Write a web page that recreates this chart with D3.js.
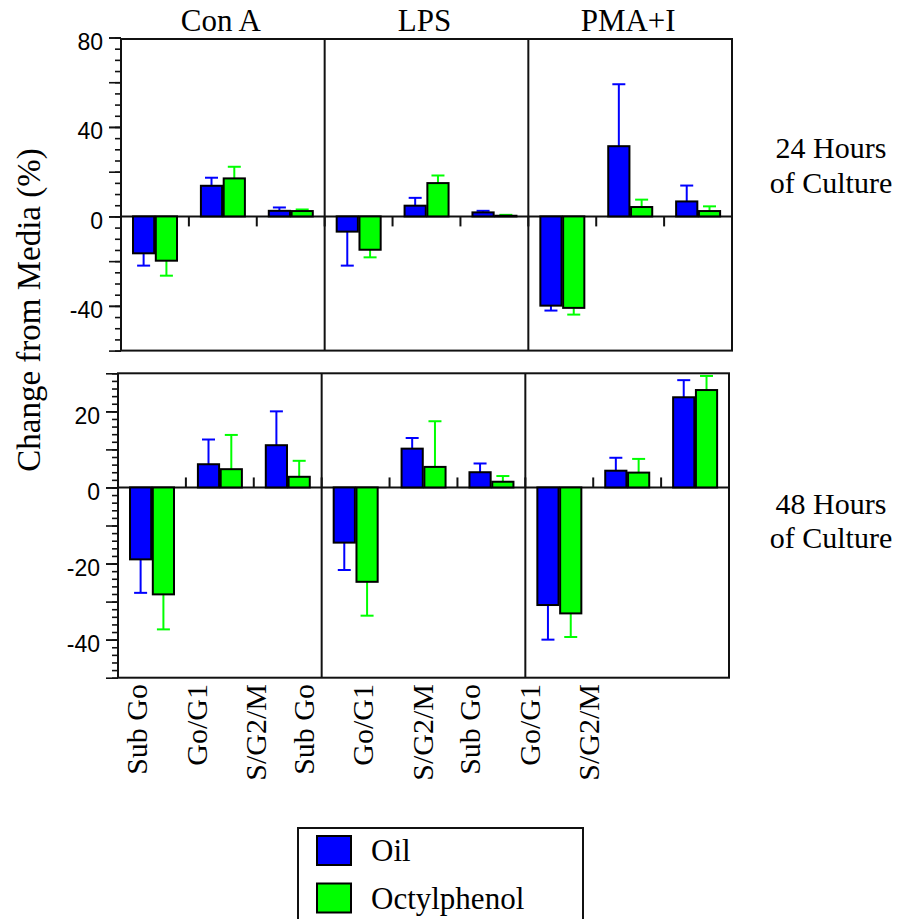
<!DOCTYPE html>
<html>
<head>
<meta charset="utf-8">
<script src="https://cdn.jsdelivr.net/npm/d3@7/dist/d3.min.js"></script>
<style>
  html, body { margin: 0; padding: 0; background: #fff; }
  svg { display: block; }
</style>
</head>
<body>
<svg id="chart" width="906" height="919"></svg>
<script>
// ---------------- DATA ----------------
const stimuli = ["Con A", "LPS", "PMA+I"];
const phases = ["Sub Go", "Go/G1", "S/G2/M"];
const seriesNames = ["Oil", "Octylphenol"];
const seriesColors = ["#0000ff", "#00ff00"];
const rowLabels = [["24 Hours", "of Culture"], ["48 Hours", "of Culture"]];

// values ordered: Con A (Sub Go, Go/G1, S/G2/M), LPS (...), PMA+I (...)
const oil24      = [-16.5, 13.7, 2.5,  -6.8, 4.8, 1.8,  -39.9, 31.4, 6.7];
const oil24Err   = [  5.5,  3.6, 1.5,  15.2, 3.5, 0.7,    2.2, 27.7, 7.1];
const octyl24    = [-19.8, 17.0, 2.4, -14.9, 14.9, 0.3, -40.9, 4.2, 2.4];
const octyl24Err = [  6.7,  5.2, 0.7,   3.4, 3.4, 0.4,    3.0, 3.3, 2.1];

const oil48      = [-18.9, 6.1, 11.1, -14.5, 10.2, 4.0, -30.9, 4.4, 23.7];
const oil48Err   = [  8.8, 6.5,  8.9,   7.2,  2.8, 2.3,   9.1, 3.4,  4.5];
const octyl48    = [-28.1, 4.8,  2.8, -24.8,  5.4, 1.5, -33.1, 3.9, 25.6];
const octyl48Err = [  9.2, 9.0,  4.2,   8.9, 12.0, 1.5,   6.2, 3.6,  3.7];

const topTickLabels = [80, 40, 0, -40];
const bottomTickLabels = [20, 0, -20, -40];

// ---------------- LAYOUT ----------------
const svg = d3.select("#chart");
const SERIF = "'Liberation Serif', 'Times New Roman', serif";
const SANS = "'Liberation Sans', Arial, sans-serif";

const rows = [
  { left: 121, right: 732, top: 37.5, bottom: 350.6, frameTop: 39, domain: [-60, 80],
    minorStep: 5, majorStep: 20, labels: topTickLabels, tickDir: 1,
    oil: oil24, oilErr: oil24Err, oct: octyl24, octErr: octyl24Err,
    labelY: [158, 193] },
  { left: 118, right: 729, top: 373.3, bottom: 677.7, frameTop: 373.3, domain: [-50, 30],
    minorStep: 2, majorStep: 10, labels: bottomTickLabels, tickDir: -1,
    oil: oil48, oilErr: oil48Err, oct: octyl48, octErr: octyl48Err,
    labelY: [514, 548] }
];

const frameColor = "#111";

rows.forEach((r, ri) => {
  const g = svg.append("g");
  const y = d3.scaleLinear().domain(r.domain).range([r.bottom, r.top]);
  const xPanel = d3.scaleBand().domain(stimuli).range([r.left, r.right]).paddingInner(0).paddingOuter(0);
  const pw = xPanel.bandwidth();
  const xCat = d3.scaleBand().domain(phases).range([0, pw]);
  const cw = xCat.bandwidth();
  const xSer = d3.scaleBand().domain(seriesNames).range([cw * 0.177, cw * 0.825]).paddingInner(0.07);

  // y axis ticks
  const minor = d3.axisLeft(y).tickValues(d3.range(r.domain[0], r.domain[1] + 0.001, r.minorStep)).tickSize(6).tickFormat("");
  const major = d3.axisLeft(y).tickValues(d3.range(r.domain[0], r.domain[1] + 0.001, r.majorStep)).tickSize(12).tickFormat("");
  const lab = d3.axisLeft(y).tickValues(r.labels).tickSize(12).tickPadding(6).tickFormat(d => String(d));
  [minor, major, lab].forEach(ax => {
    const a = g.append("g").attr("transform", `translate(${r.left},0)`).call(ax);
    a.select(".domain").remove();
    a.selectAll("line").attr("stroke", frameColor).attr("stroke-width", 1.6);
    a.selectAll("text").attr("font-family", SANS).attr("font-size", 23).attr("fill", "#000").attr("dy", "0.52em");
  });

  // frame
  g.append("line").attr("x1", r.left).attr("x2", r.left).attr("y1", r.frameTop).attr("y2", r.bottom)
    .attr("stroke", frameColor).attr("stroke-width", 2);
  g.append("rect").attr("x", r.left).attr("y", r.frameTop).attr("width", r.right - r.left).attr("height", r.bottom - r.frameTop)
    .attr("fill", "none").attr("stroke", frameColor).attr("stroke-width", 2);
  // panel dividers
  stimuli.slice(1).forEach(s => {
    g.append("line").attr("x1", xPanel(s)).attr("x2", xPanel(s)).attr("y1", r.frameTop).attr("y2", r.bottom)
      .attr("stroke", frameColor).attr("stroke-width", 2);
  });
  // zero line
  g.append("line").attr("x1", r.left).attr("x2", r.right).attr("y1", y(0)).attr("y2", y(0))
    .attr("stroke", frameColor).attr("stroke-width", 2);
  // category ticks on zero line
  stimuli.forEach(s => {
    phases.forEach((p, pi) => {
      const xx = xPanel(s) + xCat(p);
      g.append("line").attr("x1", xx).attr("x2", xx).attr("y1", y(0)).attr("y2", y(0) + 10 * r.tickDir)
        .attr("stroke", frameColor).attr("stroke-width", 2);
    });
  });

  // bars + error bars
  const data = [];
  stimuli.forEach((s, si) => {
    phases.forEach((p, pi) => {
      const idx = si * 3 + pi;
      data.push({ s, p, ser: 0, v: r.oil[idx], e: r.oilErr[idx] });
      data.push({ s, p, ser: 1, v: r.oct[idx], e: r.octErr[idx] });
    });
  });
  const bx = d => xPanel(d.s) + xCat(d.p) + xSer(seriesNames[d.ser]);
  const bw = xSer.bandwidth();

  // error bars (behind bars)
  const eg = g.append("g");
  data.forEach(d => {
    const cx = bx(d) + bw / 2;
    const end = d.v >= 0 ? d.v + d.e : d.v - d.e;
    const col = seriesColors[d.ser];
    eg.append("line").attr("x1", cx).attr("x2", cx).attr("y1", y(d.v)).attr("y2", y(end))
      .attr("stroke", col).attr("stroke-width", 2);
    eg.append("line").attr("x1", cx - 6.5).attr("x2", cx + 6.5).attr("y1", y(end)).attr("y2", y(end))
      .attr("stroke", col).attr("stroke-width", 2);
  });

  g.append("g").selectAll("rect").data(data).join("rect")
    .attr("x", d => bx(d))
    .attr("width", bw)
    .attr("y", d => y(Math.max(0, d.v)))
    .attr("height", d => Math.abs(y(d.v) - y(0)))
    .attr("fill", d => seriesColors[d.ser])
    .attr("stroke", "#000").attr("stroke-width", 2);

  // row labels on right
  rowLabels[ri].forEach((t, li) => {
    svg.append("text").attr("x", 831).attr("y", r.labelY[li]).attr("text-anchor", "middle")
      .attr("font-family", SERIF).attr("font-size", 30).attr("fill", "#000").text(t);
  });

  // column titles (top row only)
  if (ri === 0) {
    stimuli.forEach(s => {
      svg.append("text").attr("x", xPanel(s) + pw / 2 - 2).attr("y", 31).attr("text-anchor", "middle")
        .attr("font-family", SERIF).attr("font-size", 31).attr("fill", "#000").text(s);
    });
  }
});

// x category labels (rotated), below bottom row
const labelPanel = d3.scaleBand().domain(stimuli).range([147, 147 + 3 * 166.5]);
const labelStep = d3.scalePoint().domain(phases).range([0, 119]);
stimuli.forEach(s => {
  phases.forEach(p => {
    const lx = labelPanel(s) + labelStep(p);
    svg.append("text")
      .attr("transform", `translate(${lx},684) rotate(-90)`)
      .attr("text-anchor", "end")
      .attr("font-family", SERIF).attr("font-size", 30).attr("fill", "#000")
      .text(p);
  });
});

// y axis title
svg.append("text")
  .attr("transform", "translate(40,310) rotate(-90)")
  .attr("text-anchor", "middle")
  .attr("font-family", SERIF).attr("font-size", 33).attr("fill", "#000")
  .text("Change from Media (%)");

// legend
const lg = svg.append("g");
lg.append("rect").attr("x", 298).attr("y", 828).attr("width", 285).attr("height", 120)
  .attr("fill", "none").attr("stroke", "#111").attr("stroke-width", 2);
seriesNames.forEach((n, i) => {
  const yy = 836 + i * 47.5;
  lg.append("rect").attr("x", 317).attr("y", yy).attr("width", 34).attr("height", 29)
    .attr("fill", seriesColors[i]).attr("stroke", "#000").attr("stroke-width", 2);
  lg.append("text").attr("x", 371).attr("y", yy + 25).attr("font-family", SERIF).attr("font-size", 31)
    .attr("fill", "#000").text(n);
});
</script>
</body>
</html>
